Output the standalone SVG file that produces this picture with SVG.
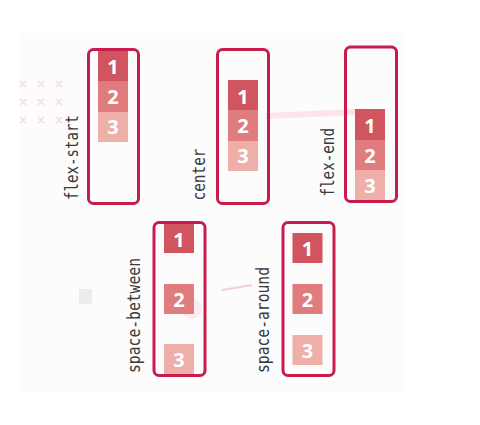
<svg xmlns="http://www.w3.org/2000/svg" width="480" height="425" viewBox="0 0 480 425">
<style>
.box{fill:none;stroke:#c81d4c;stroke-width:3}
.b1{fill:#d1555f}.b2{fill:#e07c7d}.b3{fill:#efafa9}
.n{font-family:"Noto Sans","Open Sans",sans-serif;font-weight:bold;font-size:20px;fill:#fff;text-anchor:middle}
.lab{font-family:"DejaVu Sans Mono",monospace;font-size:17px;fill:#3a3a3a}
.x{stroke:#fbdfe7;stroke-width:2}
</style>
<rect width="480" height="425" fill="#fff"/>
<rect x="20" y="33" width="385" height="360" fill="#fcfcfc"/>
<g id="decor">
<g class="x">
<path d="M20 81l6 6M26 81l-6 6M38 81l6 6M44 81l-6 6M56 81l6 6M62 81l-6 6"/>
<path d="M20 99l6 6M26 99l-6 6M38 99l6 6M44 99l-6 6M56 99l6 6M62 99l-6 6"/>
<path d="M20 117l6 6M26 117l-6 6M38 117l6 6M44 117l-6 6M56 117l6 6M62 117l-6 6"/>
</g>
<line x1="266" y1="116" x2="356" y2="112" stroke="#fde4ec" stroke-width="6"/>
<rect x="79" y="289" width="13" height="15" fill="#ececec"/>
<circle cx="192" cy="309" r="10" fill="#fdeaf0"/>
<line x1="222" y1="290" x2="252" y2="285" stroke="#f8ccd7" stroke-width="2"/>
</g>
<g id="flex-start">
<rect class="b1" x="98" y="50" width="30" height="31"/>
<rect class="b2" x="98" y="81" width="30" height="31"/>
<rect class="b3" x="98" y="112" width="30" height="30"/>
<text class="n" x="113" y="74">1</text>
<text class="n" x="113" y="104">2</text>
<text class="n" x="113" y="134">3</text>
<rect class="box" x="88.5" y="49.5" width="50" height="154" rx="5"/>
<text class="lab" transform="translate(77.5,200) rotate(-90)" textLength="85" lengthAdjust="spacingAndGlyphs">flex-start</text>
</g>
<g id="center">
<rect class="b1" x="228" y="80" width="30" height="30"/>
<rect class="b2" x="228" y="110" width="30" height="31"/>
<rect class="b3" x="228" y="141" width="30" height="30"/>
<text class="n" x="243" y="104">1</text>
<text class="n" x="243" y="133">2</text>
<text class="n" x="243" y="163">3</text>
<rect class="box" x="217.5" y="49.5" width="51" height="154" rx="5"/>
<text class="lab" transform="translate(205,200.5) rotate(-90)" textLength="52" lengthAdjust="spacingAndGlyphs">center</text>
</g>
<g id="flex-end">
<rect class="b1" x="355" y="109" width="30" height="31"/>
<rect class="b2" x="355" y="140" width="30" height="30"/>
<rect class="b3" x="355" y="170" width="30" height="31"/>
<text class="n" x="370" y="133">1</text>
<text class="n" x="370" y="163">2</text>
<text class="n" x="370" y="193">3</text>
<rect class="box" x="345.5" y="47" width="51" height="154.5" rx="5"/>
<text class="lab" transform="translate(334,196.5) rotate(-90)" textLength="68.5" lengthAdjust="spacingAndGlyphs">flex-end</text>
</g>
<g id="space-between">
<rect class="b1" x="164" y="223" width="30" height="30"/>
<rect class="b2" x="164" y="284" width="30" height="30"/>
<rect class="b3" x="164" y="344" width="30" height="31"/>
<text class="n" x="179" y="247">1</text>
<text class="n" x="179" y="307">2</text>
<text class="n" x="179" y="367">3</text>
<rect class="box" x="154" y="222.5" width="51" height="153" rx="5"/>
<text class="lab" transform="translate(140,373) rotate(-90)" textLength="115" lengthAdjust="spacingAndGlyphs">space-between</text>
</g>
<g id="space-around">
<rect class="b1" x="292.5" y="233" width="30" height="30"/>
<rect class="b2" x="292.5" y="284" width="30" height="30"/>
<rect class="b3" x="292.5" y="335" width="30" height="30"/>
<text class="n" x="307.5" y="256">1</text>
<text class="n" x="307.5" y="307">2</text>
<text class="n" x="307.5" y="358">3</text>
<rect class="box" x="283" y="222.5" width="51" height="153" rx="5"/>
<text class="lab" transform="translate(269,373) rotate(-90)" textLength="106" lengthAdjust="spacingAndGlyphs">space-around</text>
</g>
<g id="connectors"></g>
</svg>
